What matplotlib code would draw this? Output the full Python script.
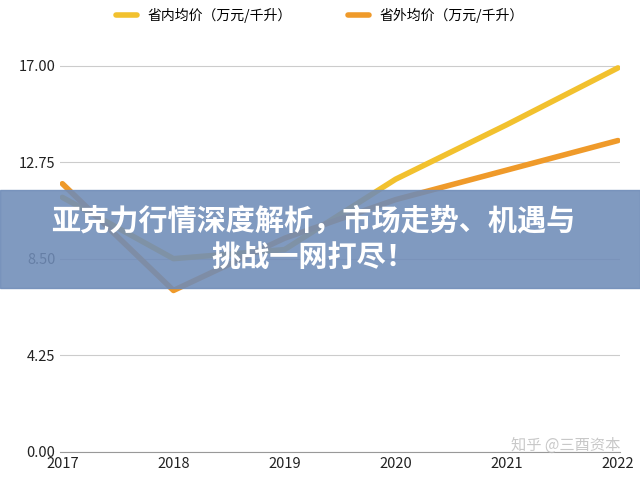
import matplotlib.pyplot as plt
from matplotlib.patches import Rectangle

plt.rcParams['font.family'] = ['Noto Sans CJK SC', 'DejaVu Sans']

years = [2017, 2018, 2019, 2020, 2021, 2022]
inside_price = [11.2, 8.5, 8.9, 12.0, 14.4, 16.9]
outside_price = [11.8, 7.1, 9.4, 11.1, 12.4, 13.7]
y_ticks = [0.00, 4.25, 8.50, 12.75, 17.00]
title_text = "亚克力行情深度解析，市场走势、机遇与\n挑战一网打尽！"

fig = plt.figure(figsize=(6.4, 4.78), dpi=100)
ax = fig.add_axes([0.094, 0.055, 0.875, 0.86])

ax.plot(years, inside_price, color="#f2c12e", lw=4, solid_capstyle="round",
        label="省内均价（万元/千升）")
ax.plot(years, outside_price, color="#ef9a2a", lw=4, solid_capstyle="round",
        label="省外均价（万元/千升）")

ax.set_xlim(2016.98, 2022.02)
ax.set_ylim(0, 18.1)
ax.set_yticks(y_ticks)
ax.set_yticklabels([f"{v:.2f}" for v in y_ticks])
ax.set_xticks(years)
ax.grid(axis="y", color="#cccccc", lw=0.8)
ax.tick_params(length=0, labelsize=10.5, colors="#222222")
for s in ["top", "right", "left"]:
    ax.spines[s].set_visible(False)
ax.spines["bottom"].set_color("#999999")

fig.legend(loc="upper center", bbox_to_anchor=(0.5, 1.01), ncol=2, frameon=False,
           fontsize=10, handlelength=1.5, columnspacing=4)

fig.patches.append(Rectangle((0, 0.398), 1, 0.205, transform=fig.transFigure,
                             color="#6f8cb8", alpha=0.88, zorder=5))
fig.text(0.49, 0.5, title_text, ha="center", va="center", fontsize=21,
         fontweight="bold", color="white", zorder=6, linespacing=1.25)
fig.text(0.97, 0.05, "知乎 @三酉资本", ha="right", va="bottom", fontsize=11,
         color="#bbbbbb", alpha=0.8, zorder=6)

fig.savefig("out.png", dpi=100)
